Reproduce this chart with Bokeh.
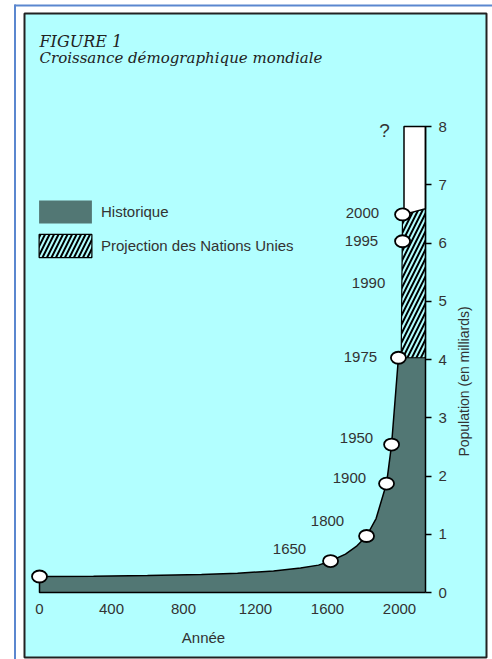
import math
from bokeh.plotting import figure
from bokeh.models import LinearAxis, FixedTicker, Range1d, Legend, LegendItem
from bokeh.core.properties import value
from bokeh.embed import file_html
from bokeh.resources import INLINE

# ---------------- data ----------------
x_ticks = [0, 400, 800, 1200, 1600, 2000]
y_ticks = [0, 1, 2, 3, 4, 5, 6, 7, 8]

# historical curve (axis units: year-scale, population in billions)
curve_x = [0, 300, 600, 900, 1100, 1300, 1450, 1550, 1617, 1700, 1760, 1817, 1870, 1928, 1956, 1994]
curve_y = [0.275, 0.28, 0.29, 0.31, 0.33, 0.37, 0.42, 0.47, 0.54, 0.66, 0.79, 0.97, 1.27, 1.87, 2.54, 4.03]

# circled milestones
pt_x = [0, 1617, 1817, 1928, 1956, 1994, 2017, 2017]
pt_pop = [0.275, 0.54, 0.97, 1.87, 2.54, 4.03, 6.03, 6.49]

# milestone labels
lbl_text = ["1650", "1800", "1900", "1950", "1975", "1990", "1995", "2000"]
lbl_x = [1389, 1600, 1722, 1761, 1783, 1828, 1789, 1794]
lbl_y = [0.74, 1.22, 1.97, 2.66, 4.05, 5.32, 6.03, 6.51]

# projection column
proj_low = 4.03
proj_high_left = 6.49
proj_high_right = 6.59
max_pop = 8

# ---------------- layout helpers ----------------
W, H = 492, 659
X0PX, XS = 39.0, 0.18     # page px of axis 0, px per year unit
Y0PX, YS = 592.0, 58.25   # page px of 0, px per billion


def X(px):
    return (px - X0PX) / XS


def Y(py):
    return (Y0PX - py) / YS


BAR_R = X(425)     # right edge of the chart / y axis
HATCH_L0 = X(400.7)
HATCH_L1 = X(402)
WHITE_L = X(403.5)

CYAN = "#b2ffff"
GRAY = "#527774"
TXT = "#333333"
SANS = value("Liberation Sans")

p = figure(width=W, height=H, output_backend="svg", toolbar_location=None,
           x_range=Range1d(X(0), X(W)), y_range=Range1d(Y(H), Y(0)),
           x_axis_type=None, y_axis_type=None, min_border=0)
p.outline_line_color = None
p.background_fill_color = "white"
p.border_fill_color = "white"

# page decorations
p.line([X(14.5), X(14.5)], [Y(4), Y(659)], line_color="#5b87cf", line_width=2)
p.line([X(14), X(492)], [Y(5), Y(5)], line_color="#5b87cf", line_width=2)
p.quad(left=X(24), right=X(486), top=Y(13), bottom=Y(657),
       fill_color=CYAN, line_color="#222222", line_width=2)

# historical area
area_x = [0] + curve_x + [BAR_R, BAR_R]
area_y = [0] + curve_y + [proj_low, 0]
r_hist = p.patch(area_x, area_y, fill_color=GRAY, line_color=None)
p.line([0, 0, BAR_R], [curve_y[0], 0, 0], line_color="black", line_width=1.5)
p.line(curve_x, curve_y, line_color="black", line_width=1.5)

# projection (hatched)
r_proj = p.patch([HATCH_L0, HATCH_L1, BAR_R, BAR_R],
                 [proj_low, proj_high_left, proj_high_right, proj_low],
                 fill_color="black", hatch_pattern="/", hatch_color=CYAN,
                 hatch_scale=9, hatch_weight=2, line_color="black", line_width=1.2)

# uncertain future (white)
p.patch([WHITE_L, WHITE_L, BAR_R, BAR_R],
        [proj_high_left, max_pop, max_pop, proj_high_right],
        fill_color="white", line_color="black", line_width=1.5)

# circles
p.ellipse(pt_x, pt_pop, width=15, height=12, width_units="screen", height_units="screen",
          fill_color="white", line_color="black", line_width=1.8)

# labels
p.text(x=lbl_x, y=lbl_y, text=lbl_text, text_align="center", text_baseline="middle",
       text_font=SANS, text_font_size="15px", text_color=TXT)
p.text(x=[X(384)], y=[Y(130)], text=["?"], text_align="center", text_baseline="middle",
       text_font=SANS, text_font_size="19px", text_color=TXT)

# titles
p.text(x=[X(39)], y=[Y(41)], text=["FIGURE 1"], text_align="left", text_baseline="middle",
       text_font=value("DejaVu Serif"), text_font_style="italic", text_font_size="16px",
       text_color="#222222")
p.text(x=[X(39)], y=[Y(57)], text=["Croissance démographique mondiale"], text_align="left",
       text_baseline="middle", text_font=value("DejaVu Serif"), text_font_style="italic",
       text_font_size="15px", text_color="#222222")

# axis titles
p.text(x=[X(203)], y=[Y(637)], text=["Année"], text_align="center", text_baseline="middle",
       text_font=SANS, text_font_size="15px", text_color=TXT)
p.text(x=[X(463)], y=[Y(381)], text=["Population (en milliards)"], angle=math.pi / 2,
       text_align="center", text_baseline="middle",
       text_font=SANS, text_font_size="14px", text_color=TXT)

# axes
yax = LinearAxis(fixed_location=BAR_R, ticker=FixedTicker(ticks=y_ticks), bounds=(0, max_pop))
yax.axis_line_color = "black"
yax.axis_line_width = 1.5
yax.major_tick_out = 6
yax.major_tick_in = 0
yax.major_tick_line_width = 1.5
yax.minor_tick_out = 0
yax.minor_tick_in = 0
yax.major_label_standoff = 7
yax.major_label_text_font = "Liberation Sans"
yax.major_label_text_font_size = "15px"
yax.major_label_text_color = TXT
p.add_layout(yax, "right")

xax = LinearAxis(fixed_location=0, ticker=FixedTicker(ticks=x_ticks))
xax.axis_line_color = None
xax.major_tick_line_color = None
xax.minor_tick_line_color = None
xax.major_tick_out = 0
xax.major_label_standoff = 11
xax.major_label_text_font = "Liberation Sans"
xax.major_label_text_font_size = "15px"
xax.major_label_text_color = TXT
p.add_layout(xax, "below")

legend = Legend(items=[LegendItem(label="Historique", renderers=[r_hist]),
                       LegendItem(label="Projection des Nations Unies", renderers=[r_proj])],
                location=(32, 399), glyph_width=66, glyph_height=29, label_height=29,
                spacing=5, padding=0, margin=0, label_standoff=3,
                background_fill_alpha=0, border_line_color=None,
                label_text_font="Liberation Sans", label_text_font_size="15px",
                label_text_color=TXT)
p.add_layout(legend)

open("out.html", "w").write(file_html(p, INLINE))
